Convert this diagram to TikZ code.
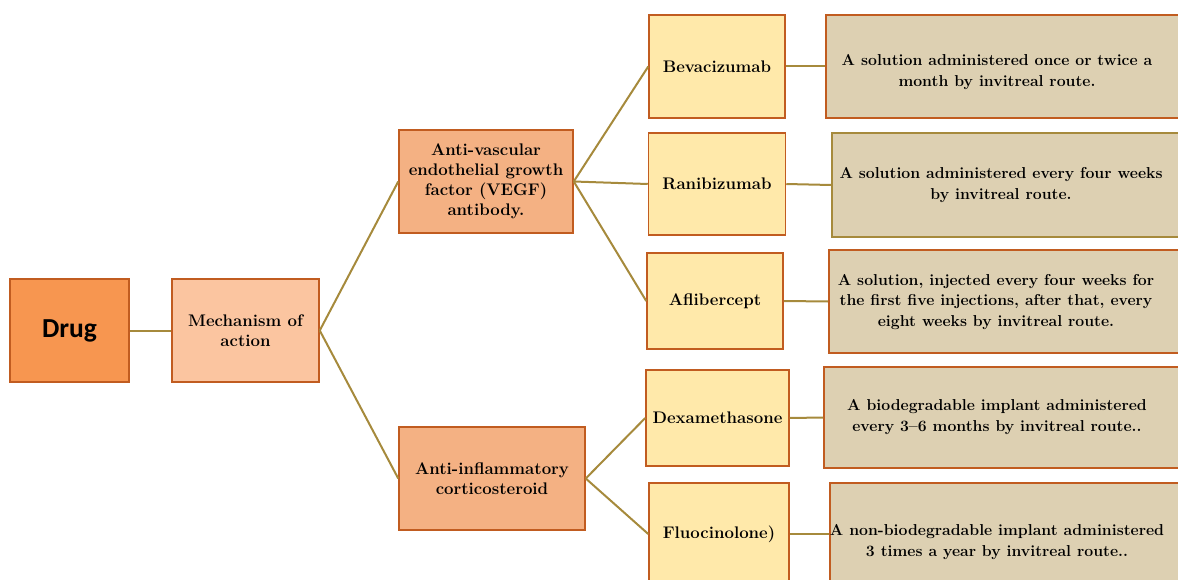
\documentclass[tikz,border=0pt]{standalone}
\usepackage{fontspec}
\newfontfamily\drugfont{Carlito}
\usepackage{tikz}
\usetikzlibrary{positioning}

\definecolor{drugfill}{RGB}{247,150,80}
\definecolor{mechfill}{RGB}{251,197,160}
\definecolor{classfill}{RGB}{244,177,131}
\definecolor{agentfill}{RGB}{255,233,170}
\definecolor{usefill}{RGB}{221,208,178}
\definecolor{boxline}{RGB}{193,92,32}
\definecolor{oliveline}{RGB}{166,138,60}

\begin{document}
\begin{tikzpicture}[x=1pt,y=1pt,
	link/.style={draw=oliveline,line width=2pt},
	usetext/.style={align=center,inner sep=0pt,font=\fontsize{15.8}{20.5}\selectfont\bfseries}]
	\clip (0,0) rectangle (1178,-580);
	\begin{scope}[every node/.style={rectangle,draw=boxline,line width=1.5pt,inner sep=0pt,align=center,font=\fontsize{16.8}{20}\selectfont\bfseries}]
		\node[fill=drugfill,minimum width=119pt,minimum height=103pt,font=\drugfont\fontsize{27.5}{30}\selectfont\bfseries] (drug) at (69.5,-330.5) {Drug};
		\node[fill=mechfill,minimum width=147pt,minimum height=103pt] (mech) at (245.5,-330.5) {Mechanism of\\action};
		\node[fill=classfill,minimum width=174pt,minimum height=103pt] (vegf) at (486,-181.5) {Anti-vascular\\endothelial growth\\factor (VEGF)\\antibody.};
		\node[fill=classfill,minimum width=186pt,minimum height=103pt] (steroid) at (492,-478.5) {Anti-inflammatory\\corticosteroid};
		% agents
		\node[fill=agentfill,minimum width=136pt,minimum height=103pt] (bev) at (717,-66.5) {Bevacizumab};
		\node[fill=agentfill,minimum width=137pt,minimum height=102pt] (rani) at (717,-184) {Ranibizumab};
		\node[fill=agentfill,minimum width=136pt,minimum height=96pt] (afli) at (715,-301) {Aflibercept};
		\node[fill=agentfill,minimum width=143pt,minimum height=96pt] (dexa) at (717.5,-418) {Dexamethasone};
		\node[fill=agentfill,minimum width=140pt,minimum height=102pt] (fluo) at (719,-534) {Fluocinolone)};
		% uses
		\node[fill=usefill,anchor=west,minimum width=400pt,minimum height=103pt] (use1) at (825,-66.5) {};
		\node[fill=usefill,draw=oliveline,anchor=west,minimum width=400pt,minimum height=104pt] (use2) at (831,-185) {};
		\node[fill=usefill,anchor=west,minimum width=400pt,minimum height=103pt] (use3) at (828,-301.5) {};
		\node[fill=usefill,anchor=west,minimum width=400pt,minimum height=101pt] (use4) at (823,-417.5) {};
		\node[fill=usefill,anchor=west,minimum width=400pt,minimum height=102pt] (use5) at (829,-534) {};
	\end{scope}

	\node[usetext] (use1txt) at (997,-72) {A solution administered once or twice a\\month by invitreal route.};
	\node[usetext] (use2txt) at (1001,-185) {A solution administered every four weeks\\by invitreal route.};
	\node[usetext] (use3txt) at (996,-302) {A solution, injected every four weeks for\\the first five injections, after that, every\\eight weeks by invitreal route.};
	\node[usetext] (use4txt) at (997,-417) {A biodegradable implant administered\\every 3--6 months by invitreal route..};
	\node[usetext] (use5txt) at (997,-542) {A non-biodegradable implant administered\\3 times a year by invitreal route..};

	\begin{scope}
	\draw[link] (drug.east) -- (mech.west);
	\draw[link] (mech.east) -- (vegf.west);
	\draw[link] (mech.east) -- (steroid.west);
	\draw[link] (vegf.east) -- (bev.west);
	\draw[link] (vegf.east) -- (rani.west);
	\draw[link] (vegf.east) -- (afli.west);
	\draw[link] (steroid.east) -- (dexa.west);
	\draw[link] (steroid.east) -- (fluo.west);
	\draw[link] (bev.east) -- (use1.west);
	\draw[link] (rani.east) -- (use2.west);
	\draw[link] (afli.east) -- (use3.west);
	\draw[link] (dexa.east) -- (use4.west);
	\draw[link] (fluo.east) -- (use5.west);
	\end{scope}
\end{tikzpicture}
\end{document}
